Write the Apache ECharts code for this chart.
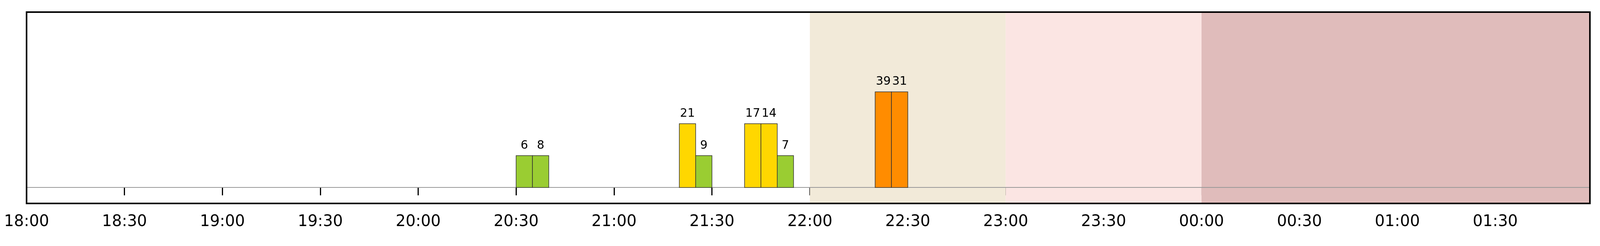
<!DOCTYPE html>
<html>
<head>
<meta charset="utf-8">
<script src="https://cdn.jsdelivr.net/npm/echarts@6/dist/echarts.min.js"></script>
<style>html,body{margin:0;padding:0;background:#fff;overflow:hidden}#c{width:100vw;height:100vh}</style>
</head>
<body>
<div id="c"></div>
<script>
// minutes since 18:00
const startMin = [150, 155, 200, 205, 220, 225, 230, 260, 265];
const levels = [1, 1, 2, 1, 2, 2, 1, 3, 3];
const counts = [6, 8, 21, 9, 17, 14, 7, 39, 31];
const levelColors = { 1: '#9acd32', 2: '#ffd700', 3: '#ff8c00' };
const shadeFrom = [240, 300, 360];
const shadeTo = [300, 360, 479];
const shadeColors = ['#f2ead9', '#fbe5e3', '#e0bcbb'];
const barWidthMin = 5;

const fmt = m => {
  const h = (18 + Math.floor(m / 60)) % 24;
  const mm = m % 60;
  return String(h).padStart(2, '0') + ':' + String(mm).padStart(2, '0');
};

const chart = echarts.init(document.getElementById('c'));
const option = {
  animation: false,
  grid: { left: '1.66%', right: '0.63%', top: 31, bottom: 109, show: true, borderColor: '#000', borderWidth: 4, z: 10 },
  xAxis: {
    type: 'value', min: 0, max: 479, interval: 30,
    axisLine: { show: false },
    axisTick: { show: true, length: 20, lineStyle: { color: '#000', width: 3 } },
    axisLabel: { fontSize: 40, color: '#000', margin: 28, fontFamily: 'DejaVu Sans', formatter: v => fmt(v), showMaxLabel: false },
    splitLine: { show: false }
  },
  yAxis: {
    type: 'value', min: -0.5, max: 5.5, show: false, splitLine: { show: false }
  },
  series: [
    {
      type: 'custom',
      data: startMin.map((s, i) => [s, levels[i], counts[i]]),
      renderItem: (params, api) => {
        const s = api.value(0), lv = api.value(1);
        const p0 = api.coord([s, 0]);
        const p1 = api.coord([s + barWidthMin, lv]);
        return {
          type: 'rect',
          shape: { x: p0[0], y: p1[1], width: p1[0] - p0[0], height: p0[1] - p1[1] },
          style: { fill: levelColors[lv], stroke: '#333', lineWidth: 1.5 },
          textContent: { style: { text: String(api.value(2)), fontSize: 30, fill: '#000', fontFamily: 'DejaVu Sans' } },
          textConfig: { position: 'top', distance: 10 }
        };
      },
      markArea: {
        silent: true,
        data: shadeFrom.map((f, i) => [
          { xAxis: f, itemStyle: { color: shadeColors[i] } },
          { xAxis: shadeTo[i] }
        ])
      },
      markLine: {
        silent: true, symbol: 'none', label: { show: false },
        lineStyle: { color: '#999', width: 2, type: 'solid' },
        data: [{ yAxis: 0 }]
      },
      z: 5
    }
  ]
};
chart.setOption(option);
window.addEventListener('resize', () => chart.resize());
</script>
</body>
</html>
